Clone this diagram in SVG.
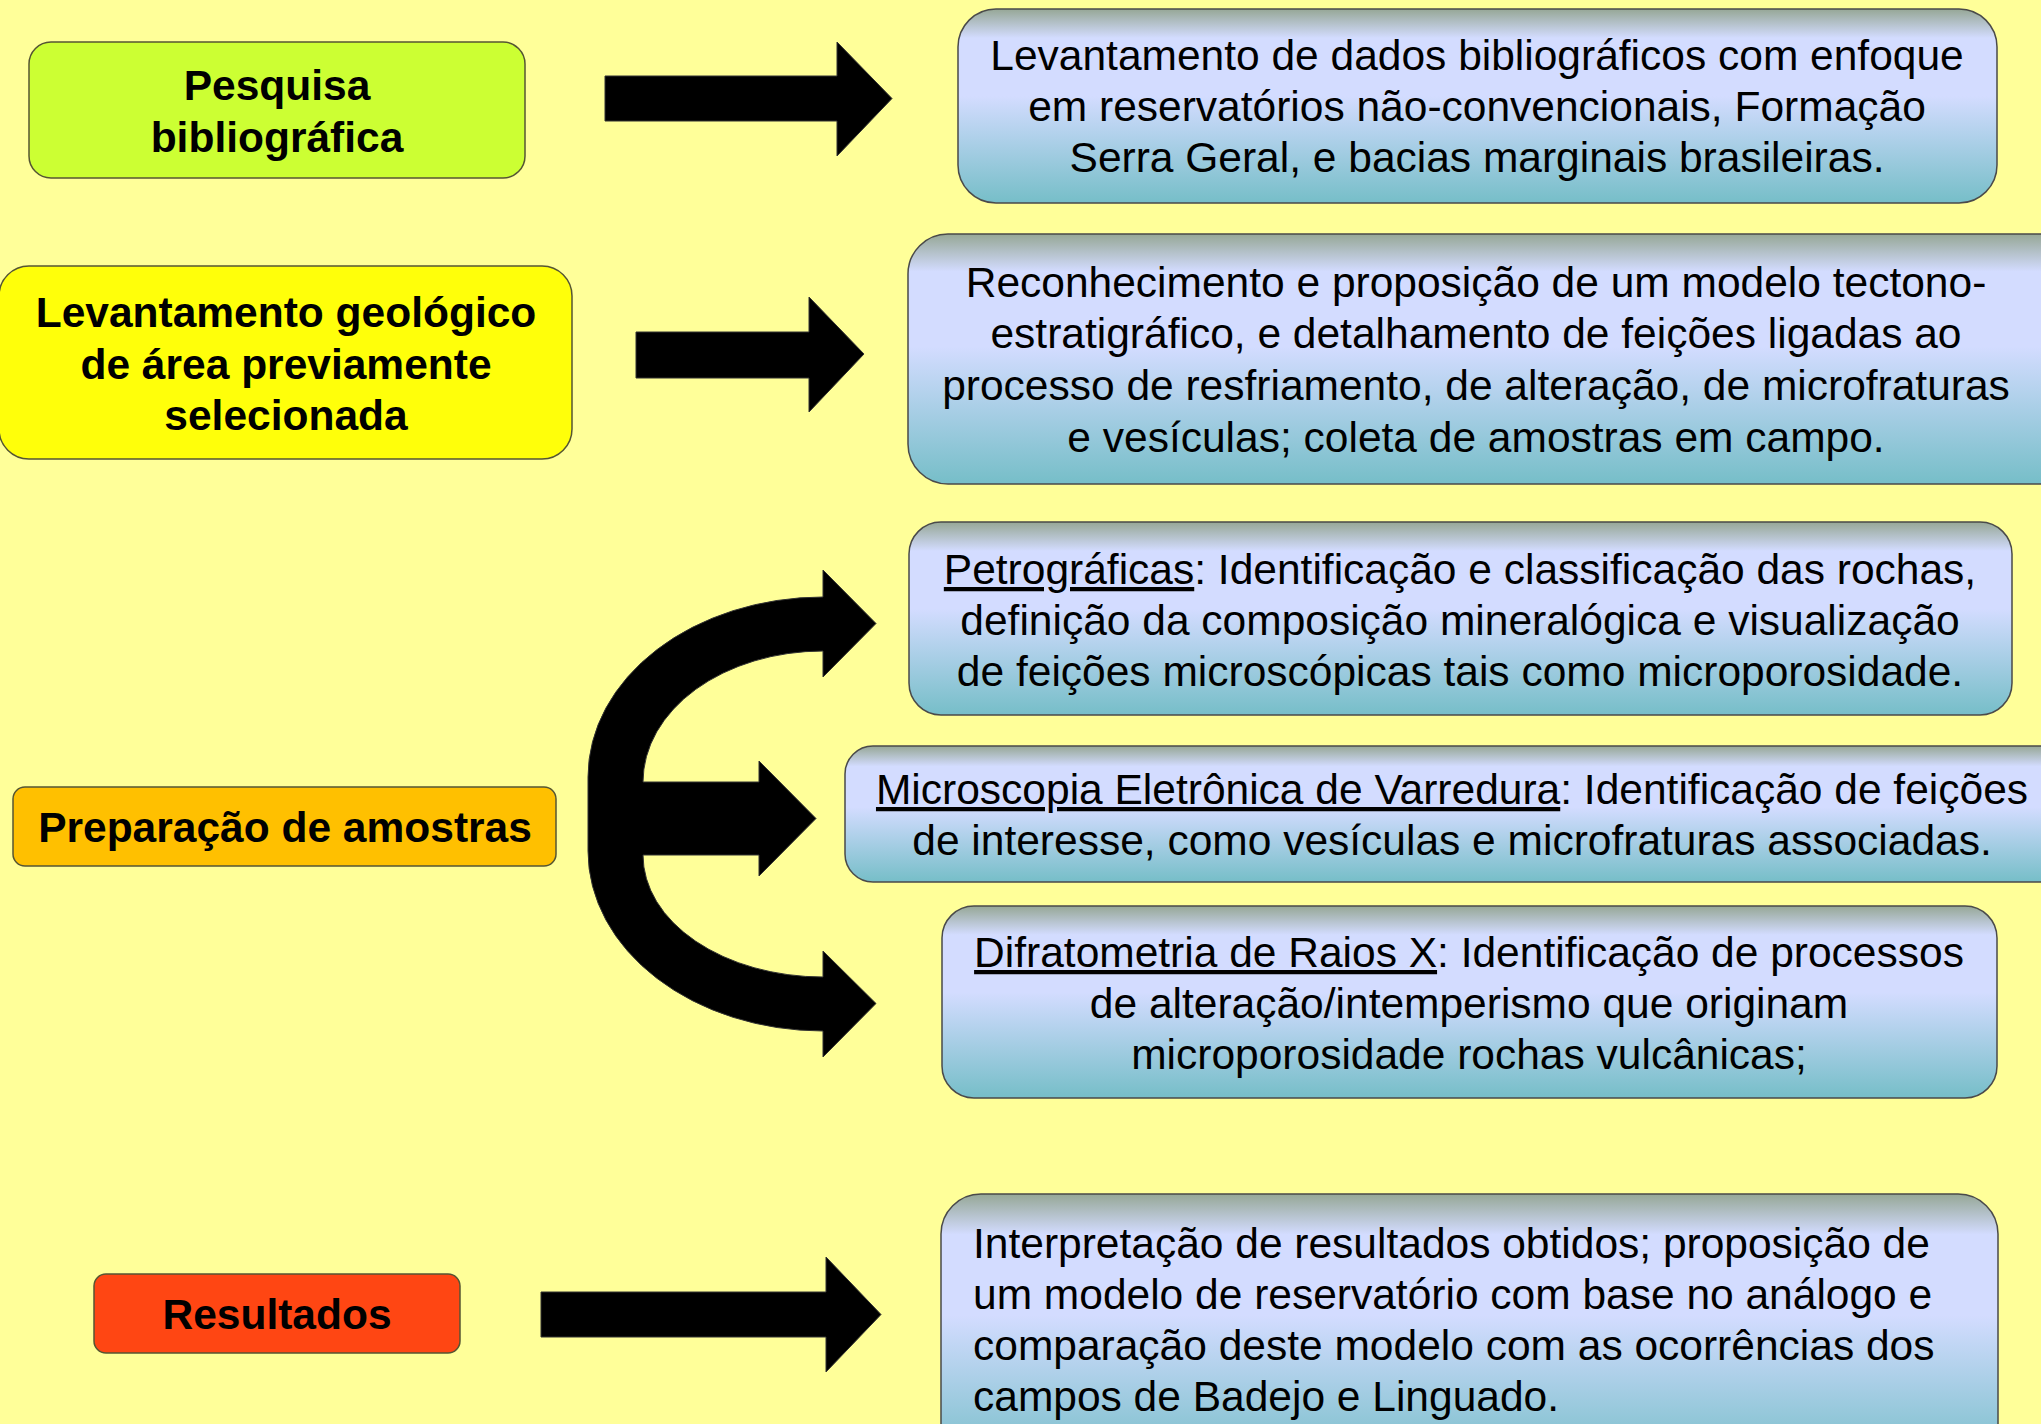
<svg xmlns="http://www.w3.org/2000/svg" width="2041" height="1424" viewBox="0 0 2041 1424">
<defs>
<linearGradient id="blueGrad" x1="0" y1="0" x2="0" y2="1">
<stop offset="0" stop-color="#96a796"/>
<stop offset="0.15" stop-color="#d3dcff"/>
<stop offset="0.45" stop-color="#d3dcff"/>
<stop offset="1" stop-color="#76bec8"/>
</linearGradient>
<style>
.bg{fill:#ffff99}
.blue{fill:url(#blueGrad);stroke:#4a4a4a;stroke-width:1.5}
.lbox{stroke:#555533;stroke-width:1.5}
.t{font-family:"Liberation Sans",Arial,sans-serif;font-size:42.5px;fill:#000}
.b{font-weight:bold;text-anchor:middle}
.c{text-anchor:middle}
.u{text-decoration:underline}
.arrow{fill:#000;stroke:#333;stroke-width:1}
</style>
</defs>
<rect class="bg" x="0" y="0" width="2041" height="1424"/>

<g id="connectors">
<path id="arrow1" class="arrow" d="M605,76 H837 V42 L892,98.5 L837,156 V121 H605 Z"/>
<path id="arrow2" class="arrow" d="M636,332 H809 V297 L864,354 L809,412 V378 H636 Z"/>
<path id="arrow3" class="arrow" d="M876,623.5 L823,677 V651 A180,131 0 0 0 643,782 H759 V761 L816,818.5 L759,876 V855 H643 A180,122 0 0 0 823,977 V951 L876,1003.5 L823,1057 V1031 A235,180 0 0 1 588,851 V777 A235,180 0 0 1 823,597 V570 Z"/>
<path id="arrow4" class="arrow" d="M541,1292 H826 V1257 L881,1314.5 L826,1372 V1337 H541 Z"/>
</g>

<g id="pesquisa">
<rect class="lbox" x="29" y="42" width="496" height="136" rx="22" fill="#ccff33"/>
<text class="t b" x="277" y="100">Pesquisa</text>
<text class="t b" x="277" y="152">bibliográfica</text>
</g>

<g id="levantamento">
<rect class="lbox" x="-1" y="266" width="573" height="193" rx="30" fill="#ffff0a"/>
<text class="t b" x="286" y="327">Levantamento geológico</text>
<text class="t b" x="286" y="379">de área previamente</text>
<text class="t b" x="286" y="430">selecionada</text>
</g>

<g id="preparacao">
<rect class="lbox" x="13" y="787" width="543" height="79" rx="12" fill="#ffc000"/>
<text class="t b" x="285" y="842">Preparação de amostras</text>
</g>

<g id="resultados">
<rect class="lbox" x="94" y="1274" width="366" height="79" rx="12" fill="#ff4613"/>
<text class="t b" x="277" y="1329">Resultados</text>
</g>

<g id="box-bibliografia">
<rect class="blue" x="958" y="9" width="1039" height="194" rx="38"/>
<text class="t c" x="1477" y="70">Levantamento de dados bibliográficos com enfoque</text>
<text class="t c" x="1477" y="121">em reservatórios não-convencionais, Formação</text>
<text class="t c" x="1477" y="172">Serra Geral, e bacias marginais brasileiras.</text>
</g>

<g id="box-reconhecimento">
<rect class="blue" x="908" y="234" width="1170" height="250" rx="40"/>
<text class="t c" x="1476" y="297">Reconhecimento e proposição de um modelo tectono-</text>
<text class="t c" x="1476" y="348">estratigráfico, e detalhamento de feições ligadas ao</text>
<text class="t c" x="1476" y="400">processo de resfriamento, de alteração, de microfraturas</text>
<text class="t c" x="1476" y="452">e vesículas; coleta de amostras em campo.</text>
</g>

<g id="box-petrograficas">
<rect class="blue" x="909" y="522" width="1103" height="193" rx="32"/>
<text class="t c" x="1460" y="584"><tspan class="u">Petrográficas</tspan>: Identificação e classificação das rochas,</text>
<text class="t c" x="1460" y="635">definição da composição mineralógica e visualização</text>
<text class="t c" x="1460" y="686">de feições microscópicas tais como microporosidade.</text>
</g>

<g id="box-mev">
<rect class="blue" x="845" y="746" width="1230" height="136" rx="28"/>
<text class="t c" x="1452" y="804"><tspan class="u">Microscopia Eletrônica de Varredura</tspan>: Identificação de feições</text>
<text class="t c" x="1452" y="855">de interesse, como vesículas e microfraturas associadas.</text>
</g>

<g id="box-drx">
<rect class="blue" x="942" y="906" width="1055" height="192" rx="32"/>
<text class="t c" x="1469" y="967"><tspan class="u">Difratometria de Raios X</tspan>: Identificação de processos</text>
<text class="t c" x="1469" y="1018">de alteração/intemperismo que originam</text>
<text class="t c" x="1469" y="1069">microporosidade rochas vulcânicas;</text>
</g>

<g id="box-interpretacao">
<rect class="blue" x="941" y="1194" width="1057" height="270" rx="40"/>
<text class="t" x="973" y="1258">Interpretação de resultados obtidos; proposição de</text>
<text class="t" x="973" y="1309">um modelo de reservatório com base no análogo e</text>
<text class="t" x="973" y="1360">comparação deste modelo com as ocorrências dos</text>
<text class="t" x="973" y="1411">campos de Badejo e Linguado.</text>
</g>
</svg>
